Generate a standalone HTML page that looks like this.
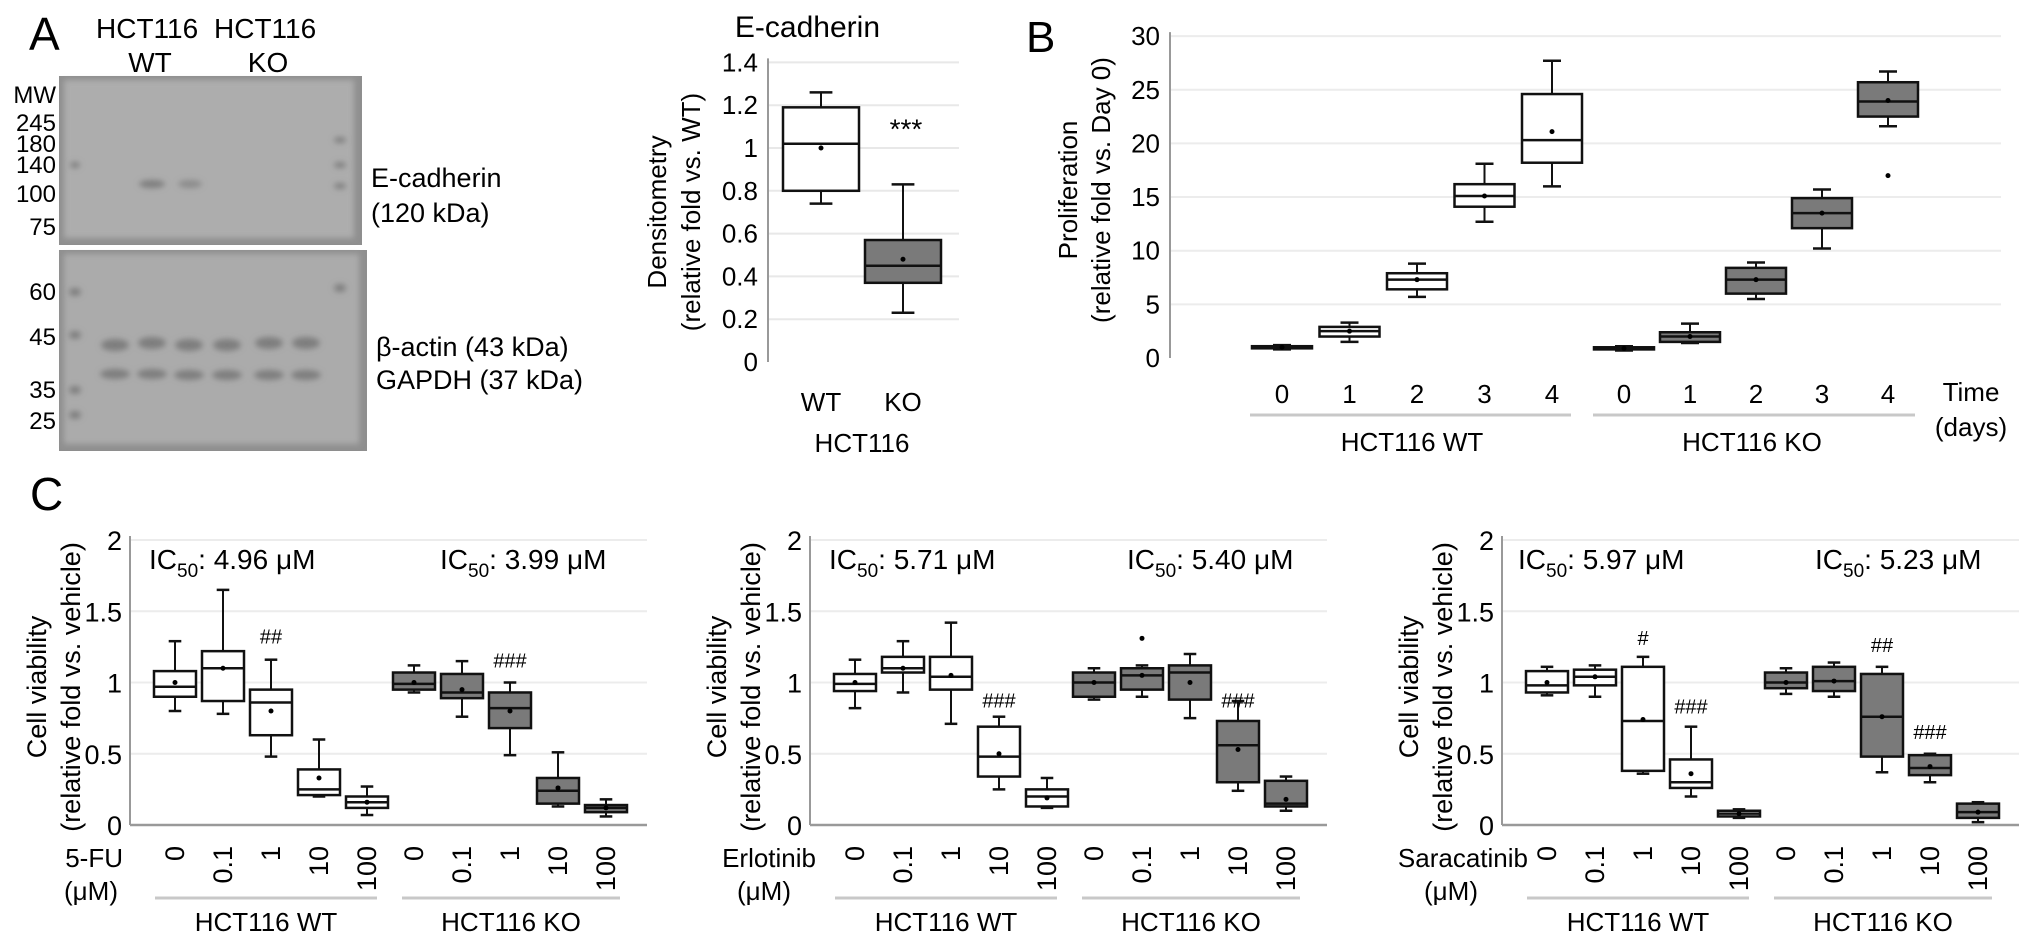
<!DOCTYPE html>
<html><head><meta charset="utf-8">
<style>
html,body{margin:0;padding:0;background:#fff;}
svg{display:block;font-family:"Liberation Sans",Arial,sans-serif;}
</style></head>
<body>
<svg id="fig" width="2032" height="952" viewBox="0 0 2032 952" xmlns="http://www.w3.org/2000/svg">
<defs>
<filter id="blur3" x="-50%" y="-50%" width="200%" height="200%"><feGaussianBlur stdDeviation="3"/></filter>
<filter id="blur2" x="-50%" y="-50%" width="200%" height="200%"><feGaussianBlur stdDeviation="2"/></filter>
</defs>

<g>
<text x="29" y="50" font-size="46">A</text>
<text x="96" y="38" font-size="28">HCT116</text>
<text x="150" y="72" font-size="28" text-anchor="middle">WT</text>
<text x="214" y="38" font-size="28">HCT116</text>
<text x="268" y="72" font-size="28" text-anchor="middle">KO</text>

<rect x="59" y="76" width="303" height="169" fill="#8f8f8f"/>
<rect x="64" y="80" width="290" height="158" fill="#adadad" filter="url(#blur3)"/>
<rect x="59" y="250" width="308" height="201" fill="#8f8f8f"/>
<rect x="64" y="254" width="295" height="190" fill="#ababab" filter="url(#blur3)"/>
<g fill="#7e7e7e" filter="url(#blur3)">
<ellipse cx="152" cy="184" rx="13" ry="4"/>
<ellipse cx="190" cy="184" rx="12" ry="4" opacity="0.7"/>
<ellipse cx="75" cy="165" rx="5" ry="3"/><ellipse cx="340" cy="165" rx="6" ry="3"/>
<ellipse cx="340" cy="140" rx="6" ry="3"/><ellipse cx="340" cy="186" rx="6" ry="3"/>
<ellipse cx="75" cy="292" rx="6" ry="4"/><ellipse cx="340" cy="288" rx="6" ry="4"/>
<ellipse cx="75" cy="335" rx="6" ry="4"/><ellipse cx="75" cy="390" rx="6" ry="4"/><ellipse cx="75" cy="415" rx="6" ry="4"/>
<ellipse cx="115" cy="345" rx="14" ry="6"/><ellipse cx="152" cy="343" rx="14" ry="6"/><ellipse cx="189" cy="345" rx="14" ry="6"/>
<ellipse cx="227" cy="345" rx="14" ry="6"/><ellipse cx="269" cy="343" rx="14" ry="6"/><ellipse cx="306" cy="343" rx="14" ry="6"/>
<ellipse cx="115" cy="374" rx="15" ry="5"/><ellipse cx="152" cy="374" rx="15" ry="5"/><ellipse cx="189" cy="375" rx="15" ry="5"/>
<ellipse cx="227" cy="375" rx="15" ry="5"/><ellipse cx="269" cy="375" rx="15" ry="5"/><ellipse cx="306" cy="375" rx="15" ry="5"/>
</g>
<g font-size="24" text-anchor="end">
<text x="56" y="103">MW</text><text x="56" y="131">245</text><text x="56" y="152">180</text><text x="56" y="173">140</text>
<text x="56" y="202">100</text><text x="56" y="235">75</text><text x="56" y="300">60</text><text x="56" y="345">45</text>
<text x="56" y="398">35</text><text x="56" y="429">25</text>
</g>
<text x="371" y="187" font-size="27">E-cadherin</text>
<text x="371" y="222" font-size="27">(120 kDa)</text>
<text x="376" y="356" font-size="27">β-actin (43 kDa)</text>
<text x="376" y="389" font-size="27">GAPDH (37 kDa)</text>
</g>
<g id="charts"></g>
</svg>
<script>
const densCategories = ["WT", "KO"];
const densBoxes = [[0.74, 0.80, 1.02, 1.19, 1.26, 1.00], [0.23, 0.37, 0.45, 0.57, 0.83, 0.48]];
const densTicks = [0, 0.2, 0.4, 0.6, 0.8, 1, 1.2, 1.4];

const profDays = ["0", "1", "2", "3", "4"];
const profTicks = [0, 5, 10, 15, 20, 25, 30];
const profWt = [[0.8, 0.9, 1.0, 1.1, 1.2, 1.0], [1.5, 2.0, 2.5, 2.9, 3.3, 2.5], [5.7, 6.4, 7.3, 7.9, 8.8, 7.3], [12.7, 14.1, 15.1, 16.2, 18.1, 15.1], [16.0, 18.2, 20.3, 24.6, 27.7, 21.1]];
const profKo = [[0.7, 0.8, 0.9, 1.0, 1.1, 0.9], [1.4, 1.5, 2.0, 2.4, 3.2, 2.0], [5.5, 6.0, 7.3, 8.4, 8.9, 7.3], [10.2, 12.1, 13.5, 14.9, 15.7, 13.5], [21.6, 22.5, 23.9, 25.7, 26.7, 24.0]];
const profKoOutliers = [null, null, null, null, 17.0];

const doseLabels = ["0", "0.1", "1", "10", "100"];
const viaTicks = [0, 0.5, 1, 1.5, 2];
const fuWt = [[0.80, 0.90, 0.97, 1.08, 1.29, 1.00], [0.78, 0.87, 1.10, 1.22, 1.65, 1.10], [0.48, 0.63, 0.86, 0.95, 1.16, 0.80], [0.20, 0.21, 0.25, 0.39, 0.60, 0.33], [0.07, 0.12, 0.16, 0.20, 0.27, 0.16]];
const fuKo = [[0.93, 0.95, 0.99, 1.07, 1.12, 1.00], [0.76, 0.89, 0.93, 1.06, 1.15, 0.95], [0.49, 0.68, 0.82, 0.93, 1.00, 0.80], [0.13, 0.15, 0.24, 0.33, 0.51, 0.26], [0.06, 0.09, 0.12, 0.14, 0.18, 0.12]];
const erWt = [[0.82, 0.94, 0.99, 1.06, 1.16, 1.00], [0.93, 1.07, 1.10, 1.18, 1.29, 1.10], [0.71, 0.95, 1.04, 1.18, 1.42, 1.05], [0.25, 0.34, 0.48, 0.69, 0.76, 0.50], [0.12, 0.13, 0.20, 0.25, 0.33, 0.19]];
const erKo = [[0.88, 0.90, 1.00, 1.07, 1.10, 1.00], [0.90, 0.95, 1.05, 1.10, 1.12, 1.05], [0.75, 0.88, 1.07, 1.12, 1.20, 1.00], [0.24, 0.30, 0.56, 0.73, 0.87, 0.53], [0.10, 0.13, 0.15, 0.31, 0.34, 0.18]];
const erKoOutliers = [null, 1.31, null, null, null];
const saWt = [[0.91, 0.93, 0.98, 1.08, 1.11, 1.00], [0.90, 0.98, 1.04, 1.09, 1.12, 1.04], [0.36, 0.38, 0.73, 1.11, 1.18, 0.74], [0.20, 0.26, 0.30, 0.46, 0.69, 0.36], [0.05, 0.06, 0.08, 0.10, 0.11, 0.08]];
const saKo = [[0.92, 0.96, 1.00, 1.07, 1.10, 1.00], [0.90, 0.94, 1.01, 1.11, 1.14, 1.01], [0.37, 0.48, 0.76, 1.06, 1.11, 0.76], [0.30, 0.35, 0.40, 0.49, 0.50, 0.41], [0.02, 0.05, 0.09, 0.15, 0.16, 0.09]];
const fuMarks = [{g: "wt", i: 2, v: 1.33, t: "##"}, {g: "ko", i: 2, v: 1.16, t: "###"}];
const erMarks = [{g: "wt", i: 3, v: 0.88, t: "###"}, {g: "ko", i: 3, v: 0.88, t: "###"}];
const saMarks = [{g: "wt", i: 2, v: 1.32, t: "#"}, {g: "wt", i: 3, v: 0.84, t: "###"}, {g: "ko", i: 2, v: 1.27, t: "##"}, {g: "ko", i: 3, v: 0.66, t: "###"}];

const NS = "http://www.w3.org/2000/svg";
const root = document.getElementById("charts");
function mk(tag, attrs, parent) {
  const e = document.createElementNS(NS, tag);
  for (const k in attrs) e.setAttribute(k, attrs[k]);
  (parent || root).appendChild(e);
  return e;
}
function txt(x, y, s, size, anchor, parent) {
  const t = mk("text", {x: x, y: y, "font-size": size, "text-anchor": anchor || "start"}, parent);
  t.textContent = s;
  return t;
}
function drawBox(g, cx, hw, yf, d, fill, name) {
  const b = mk("g", {}, g);
  
  
  const cap = hw * 0.3;
  mk("line", {x1: cx, x2: cx, y1: yf(d[4]), y2: yf(d[3]), stroke: "#111", "stroke-width": 2}, b);
  mk("line", {x1: cx, x2: cx, y1: yf(d[1]), y2: yf(d[0]), stroke: "#111", "stroke-width": 2}, b);
  mk("line", {x1: cx - cap, x2: cx + cap, y1: yf(d[4]), y2: yf(d[4]), stroke: "#111", "stroke-width": 2.5}, b);
  mk("line", {x1: cx - cap, x2: cx + cap, y1: yf(d[0]), y2: yf(d[0]), stroke: "#111", "stroke-width": 2.5}, b);
  mk("rect", {x: cx - hw, y: yf(d[3]), width: hw * 2, height: Math.max(1, yf(d[1]) - yf(d[3])), fill: fill, stroke: "#111", "stroke-width": 2.5}, b);
  mk("line", {x1: cx - hw, x2: cx + hw, y1: yf(d[2]), y2: yf(d[2]), stroke: "#111", "stroke-width": 2.5}, b);
  mk("circle", {cx: cx, cy: yf(d[5]), r: 2.5, fill: "#000"}, b);
}

(function () {
  const g = mk("g", {});
  
  
  const ax = 768, right = 959, y0 = 362, k = 214;
  const yf = v => y0 - v * k;
  densTicks.forEach(v => {
    if (v > 0) mk("line", {x1: ax, x2: right, y1: yf(v), y2: yf(v), stroke: "#e8e8e8", "stroke-width": 2}, g);
    const t = txt(ax - 10, yf(v) + 9, String(v), 26, "end", g);
    
    
  });
  mk("line", {x1: ax, x2: ax, y1: yf(1.4) - 4, y2: y0, stroke: "#999", "stroke-width": 2}, g);
  const xs = [821, 903];
  densCategories.forEach((c, i) => {
    drawBox(g, xs[i], 38, yf, densBoxes[i], i === 0 ? "#fff" : "#7a7a7a", "dens-box-" + c.toLowerCase());
    const t = txt(xs[i], 411, c, 26, "middle", g);
    
    
  });
  const s = txt(906, yf(1.1) + 12, "***", 28, "middle", g);
  
  
  const h = txt(862, 452, "HCT116", 26, "middle", g);
  
  
  const ti = txt(880, 37, "E-cadherin", 30, "end", g);
  
  
  const yt1 = txt(0, 0, "Densitometry", 26, "middle", g);
  yt1.setAttribute("transform", "translate(666," + 212 + ") rotate(-90)");
  
  
  const yt2 = txt(0, 0, "(relative fold vs. WT)", 26, "middle", g);
  yt2.setAttribute("transform", "translate(700," + 212 + ") rotate(-90)");
  
  
})();

(function () {
  const g = mk("g", {});
  
  
  const ax = 1170, right = 2001, y0 = 358, k = 10.73;
  const yf = v => y0 - v * k;
  const b = txt(1026, 52, "B", 44, "start", g);
  
  
  profTicks.forEach(v => {
    if (v > 0) mk("line", {x1: ax, x2: right, y1: yf(v), y2: yf(v), stroke: "#ececec", "stroke-width": 2}, g);
    const t = txt(ax - 10, yf(v) + 9, String(v), 26, "end", g);
    
    
  });
  mk("line", {x1: ax, x2: ax, y1: yf(30) - 4, y2: y0, stroke: "#999", "stroke-width": 2}, g);
  const wtX = i => 1282 + i * 67.5;
  const koX = i => 1624 + i * 66;
  profDays.forEach((d, i) => {
    drawBox(g, wtX(i), 30, yf, profWt[i], "#fff", "prolif-wt-day" + d);
    drawBox(g, koX(i), 30, yf, profKo[i], "#7a7a7a", "prolif-ko-day" + d);
    if (profKoOutliers[i] !== null) mk("circle", {cx: koX(i), cy: yf(profKoOutliers[i]), r: 2.5, fill: "#000"}, g);
    const t1 = txt(wtX(i), 403, d, 26, "middle", g);
    
    
    const t2 = txt(koX(i), 403, d, 26, "middle", g);
    
    
  });
  mk("line", {x1: 1250, x2: 1571, y1: 415, y2: 415, stroke: "#c8c8c8", "stroke-width": 3}, g);
  mk("line", {x1: 1593, x2: 1915, y1: 415, y2: 415, stroke: "#c8c8c8", "stroke-width": 3}, g);
  const gw = txt(1412, 451, "HCT116 WT", 26, "middle", g);
  
  
  const gk = txt(1752, 451, "HCT116 KO", 26, "middle", g);
  
  
  const tm = txt(1971, 401, "Time", 26, "middle", g);
  
  
  const dy = txt(1971, 436, "(days)", 26, "middle", g);
  
  
  const y1 = txt(0, 0, "Proliferation", 26, "middle", g);
  y1.setAttribute("transform", "translate(1077,190) rotate(-90)");
  
  
  const y2 = txt(0, 0, "(relative fold vs. Day 0)", 26, "middle", g);
  y2.setAttribute("transform", "translate(1110,190) rotate(-90)");
  
  
})();

const cl = txt(30, 510, "C", 46, "start");



function viability(name, ax, wt, ko, koOut, marks, drug, drugEnd, umX, ic50a, ic50b, t1x, t2x) {
  const g = mk("g", {});
  
  
  const right = ax + 517, y0 = 825, k = 142.5;
  const yf = v => y0 - v * k;
  viaTicks.forEach(v => {
    if (v > 0) mk("line", {x1: ax, x2: right, y1: yf(v), y2: yf(v), stroke: "#ececec", "stroke-width": 2}, g);
    const t = txt(ax - 8, yf(v) + 10, String(v), 27, "end", g);
    
    
  });
  mk("line", {x1: ax, x2: ax, y1: yf(2) - 4, y2: y0, stroke: "#999", "stroke-width": 2}, g);
  mk("line", {x1: ax, x2: right, y1: y0, y2: y0, stroke: "#999", "stroke-width": 2.5}, g);
  const wx = i => ax + 45 + i * 48;
  const kx = i => ax + 284 + i * 48;
  doseLabels.forEach((d, i) => {
    drawBox(g, wx(i), 21, yf, wt[i], "#fff", "box-wt-" + d);
    drawBox(g, kx(i), 21, yf, ko[i], "#7a7a7a", "box-ko-" + d);
    if (koOut && koOut[i] !== null) mk("circle", {cx: kx(i), cy: yf(koOut[i]), r: 2.5, fill: "#000"}, g);
    [wx(i), kx(i)].forEach(x => {
      const t = txt(0, 0, d, 27, "end", g);
      t.setAttribute("transform", "translate(" + (x + 9) + ",846) rotate(-90)");
      
      
    });
  });
  marks.forEach(m => {
    const x = m.g === "wt" ? wx(m.i) : kx(m.i);
    const t = txt(x, yf(m.v) + 8, m.t, 20, "middle", g);
    
    
  });
  mk("line", {x1: wx(0) - 20, x2: wx(4) + 10, y1: 898, y2: 898, stroke: "#c8c8c8", "stroke-width": 3}, g);
  mk("line", {x1: kx(0) - 12, x2: kx(4) + 14, y1: 898, y2: 898, stroke: "#c8c8c8", "stroke-width": 3}, g);
  const gw = txt((wx(0) + wx(4)) / 2 - 5, 931, "HCT116 WT", 26, "middle", g);
  
  
  const gk = txt((kx(0) + kx(4)) / 2 + 1, 931, "HCT116 KO", 26, "middle", g);
  
  
  const dl = txt(drugEnd, 867, drug, 26, "end", g);
  
  
  const um = txt(umX, 900, "(μM)", 26, "middle", g);
  
  
  [[t1x, ic50a, 'ic50-wt'], [t2x, ic50b, 'ic50-ko']].forEach(p => {
    const t = mk("text", {x: ax + p[0], y: 569, "font-size": 28}, g);
    
    
    t.appendChild(document.createTextNode("IC"));
    const sub = mk("tspan", {dy: 8, "font-size": 19}, t);
    sub.textContent = "50";
    const rest = mk("tspan", {dy: -8}, t);
    rest.textContent = ": " + p[1] + " μM";
  });
  const y1 = txt(0, 0, "Cell viability", 27, "middle", g);
  y1.setAttribute("transform", "translate(" + (ax - 84) + ",687) rotate(-90)");
  
  
  const y2 = txt(0, 0, "(relative fold vs. vehicle)", 27, "middle", g);
  y2.setAttribute("transform", "translate(" + (ax - 50) + ",687) rotate(-90)");
  
  
}
viability("viability-5fu-chart", 130, fuWt, fuKo, null, fuMarks, "5-FU", 123, 91, "4.96", "3.99", 19, 310);
viability("viability-erlotinib-chart", 810, erWt, erKo, erKoOutliers, erMarks, "Erlotinib", 816, 764, "5.71", "5.40", 19, 317);
viability("viability-saracatinib-chart", 1502, saWt, saKo, null, saMarks, "Saracatinib", 1528, 1451, "5.97", "5.23", 16, 313);
</script>
</body></html>
